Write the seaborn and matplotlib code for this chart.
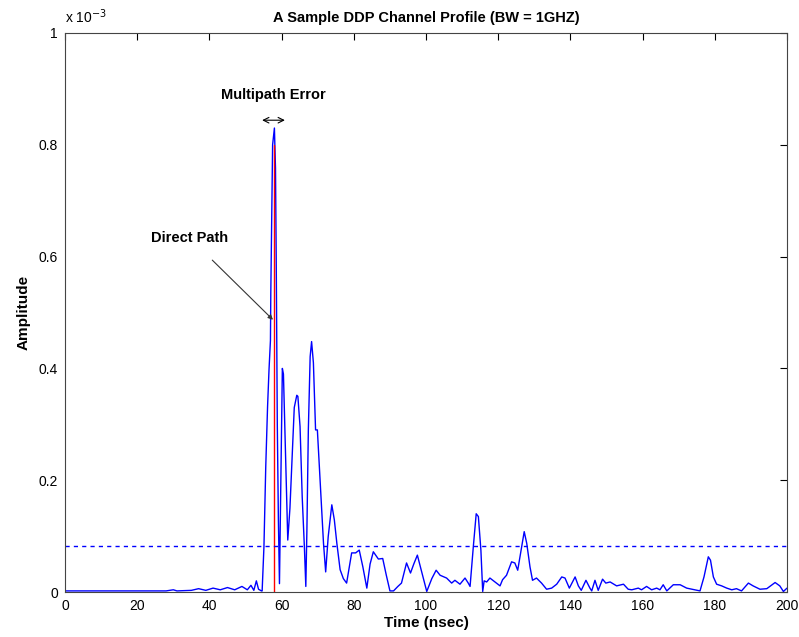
import numpy as np
import pandas as pd
import matplotlib
matplotlib.use("Agg")
import matplotlib.pyplot as plt
import seaborn as sns

# time axis (nsec) and amplitude (x 1e-3)
time_ns = [0, 28, 30, 31, 35, 37, 39, 41, 43, 45, 47, 49, 50.5, 51.5, 52.3, 53, 53.6, 54.4,
           54.6, 55.1, 55.6, 56.1, 56.5, 56.9, 57.0, 57.3, 57.5, 58.0, 58.3, 58.5, 58.8,
           59.1, 59.4, 60.2, 60.5, 61.7, 62.3, 63.5, 64.2, 64.5, 65.1, 65.7, 66.3, 66.7,
           67.0, 67.4, 67.9, 68.3, 68.8, 69.4, 69.9, 70.4, 70.9, 71.6, 72.2, 72.9, 73.9,
           74.6, 75.3, 76.2, 77.1, 78.0, 78.9, 79.4, 80.5, 81.5, 82.5, 83.6, 84.5, 85.4,
           86.8, 88.0, 89.0, 90.0, 91.0, 92.2, 93.2, 94.6, 95.7, 96.6, 97.6, 98.8, 100.2,
           101.6, 102.8, 103.9, 105.7, 107.1, 108.0, 109.4, 110.8, 111.7, 112.2, 113.1,
           113.9, 114.5, 115.2, 115.7, 116.1, 116.8, 117.7, 119.1, 120.5, 121.2, 122.3,
           123.7, 124.6, 125.4, 126.5, 127.2, 127.9, 128.8, 129.5, 130.6, 132.0, 133.4,
           134.8, 136.2, 137.6, 138.5, 139.7, 141.3, 142.2, 143.0, 144.3, 145.4, 145.9,
           146.8, 147.7, 148.9, 149.8, 151.0, 152.8, 154.7, 156.0, 157.0, 158.8, 159.7,
           161.1, 162.5, 163.9, 164.8, 165.7, 166.7, 168.5, 170.4, 172.2, 175.9, 177.0,
           178.2, 178.8, 179.6, 180.5, 181.9, 183.3, 184.7, 186.0, 187.4, 189.3, 190.6,
           192.5, 194.4, 196.7, 198.0, 199.0, 200.0]
amp_e3 = [0.002, 0.002, 0.004, 0.002, 0.003, 0.006, 0.003, 0.007, 0.004, 0.008, 0.004, 0.010,
          0.004, 0.012, 0.003, 0.020, 0.005, 0.002,
          0.002, 0.081, 0.224, 0.331, 0.397, 0.450, 0.535, 0.687, 0.800, 0.830, 0.758, 0.597,
          0.300, 0.130, 0.015, 0.400, 0.390, 0.093, 0.150, 0.330, 0.352, 0.350, 0.296, 0.170,
          0.081, 0.010, 0.111, 0.290, 0.421, 0.448, 0.410, 0.290, 0.290, 0.230, 0.170, 0.087,
          0.036, 0.099, 0.156, 0.129, 0.087, 0.040, 0.024, 0.016, 0.051, 0.070, 0.070, 0.075,
          0.045, 0.007, 0.050, 0.072, 0.059, 0.060, 0.030, 0.002, 0.002, 0.010, 0.016, 0.052,
          0.034, 0.050, 0.066, 0.036, 0.001, 0.024, 0.039, 0.030, 0.025, 0.016, 0.021, 0.014,
          0.025, 0.016, 0.010, 0.081, 0.140, 0.135, 0.075, 0.001, 0.020, 0.018, 0.025, 0.018,
          0.011, 0.022, 0.030, 0.054, 0.052, 0.039, 0.081, 0.108, 0.087, 0.045, 0.021, 0.025,
          0.016, 0.005, 0.007, 0.014, 0.027, 0.025, 0.007, 0.027, 0.011, 0.003, 0.021, 0.007,
          0.002, 0.021, 0.003, 0.023, 0.016, 0.018, 0.011, 0.014, 0.005, 0.004, 0.007, 0.004,
          0.010, 0.004, 0.007, 0.004, 0.013, 0.002, 0.013, 0.013, 0.007, 0.002, 0.027, 0.063,
          0.057, 0.027, 0.014, 0.011, 0.007, 0.004, 0.006, 0.002, 0.016, 0.011, 0.005, 0.006,
          0.017, 0.011, 0.001, 0.007]

direct_t = 57.8        # direct path arrival
direct_amp = 0.80
threshold = 0.082      # dashed detection threshold
mp_err = [54.6, 60.9]  # multipath error span
mp_err_y = 0.844

x_ticks = [0, 20, 40, 60, 80, 100, 120, 140, 160, 180, 200]
y_ticks = [0, 0.2, 0.4, 0.6, 0.8, 1]

df = pd.DataFrame({"t": time_ns, "a": amp_e3})

sns.set_style("white")
plt.rcParams['font.family'] = ['Liberation Sans', 'DejaVu Sans']
plt.rcParams['text.color'] = 'black'
plt.rcParams['axes.labelcolor'] = 'black'
plt.rcParams['xtick.color'] = 'black'
plt.rcParams['ytick.color'] = 'black'

fig = plt.figure(figsize=(7.99, 6.37), dpi=100)
ax = fig.add_axes([0.0814, 0.0706, 0.9036, 0.8776])

sns.lineplot(data=df, x="t", y="a", ax=ax, color="#0000ff", linewidth=1.0, sort=False)
ax.plot([direct_t, direct_t], [0, direct_amp], color="#ff0000", linewidth=1.0)
ax.axhline(threshold, color="#0000ff", linestyle=(0, (3, 3)), linewidth=1.0)

ax.set_xlim(0, 200)
ax.set_ylim(0, 1)
ax.set_xticks(x_ticks)
ax.set_yticks(y_ticks)
ax.set_yticklabels(["0", "0.2", "0.4", "0.6", "0.8", "1"])
ax.tick_params(direction="in", top=True, right=True, length=5, width=0.8,
               labelsize=10, pad=5)
for s in ax.spines.values():
    s.set_color("#444444")
    s.set_linewidth(0.8)

ax.set_title("A Sample DDP Channel Profile (BW = 1GHZ)", fontsize=10.5,
             fontweight="bold", pad=8)
ax.set_xlabel("Time (nsec)", fontsize=11, fontweight="bold", labelpad=2)
ax.set_ylabel("Amplitude", fontsize=11, fontweight="bold", labelpad=6)
ax.text(0.0, 1.012, "x 10$^{-3}$", transform=ax.transAxes, fontsize=10,
        ha="left", va="bottom")

# annotations
ax.annotate("", xy=(mp_err[0], mp_err_y), xytext=(mp_err[1], mp_err_y),
            arrowprops=dict(arrowstyle="<->", color="black", lw=0.8,
                            shrinkA=0, shrinkB=0))
ax.text(np.mean(mp_err), 0.876, "Multipath Error", fontsize=10.5,
        fontweight="bold", ha="center", va="bottom")
ax.annotate("Direct Path", xy=(57.6, 0.487), xytext=(34.6, 0.633),
            fontsize=10.5, fontweight="bold", ha="center", va="center",
            arrowprops=dict(arrowstyle="-|>", color="#333333", lw=0.8,
                            shrinkA=12, shrinkB=0, mutation_scale=7))

fig.savefig("out.png", dpi=100)
